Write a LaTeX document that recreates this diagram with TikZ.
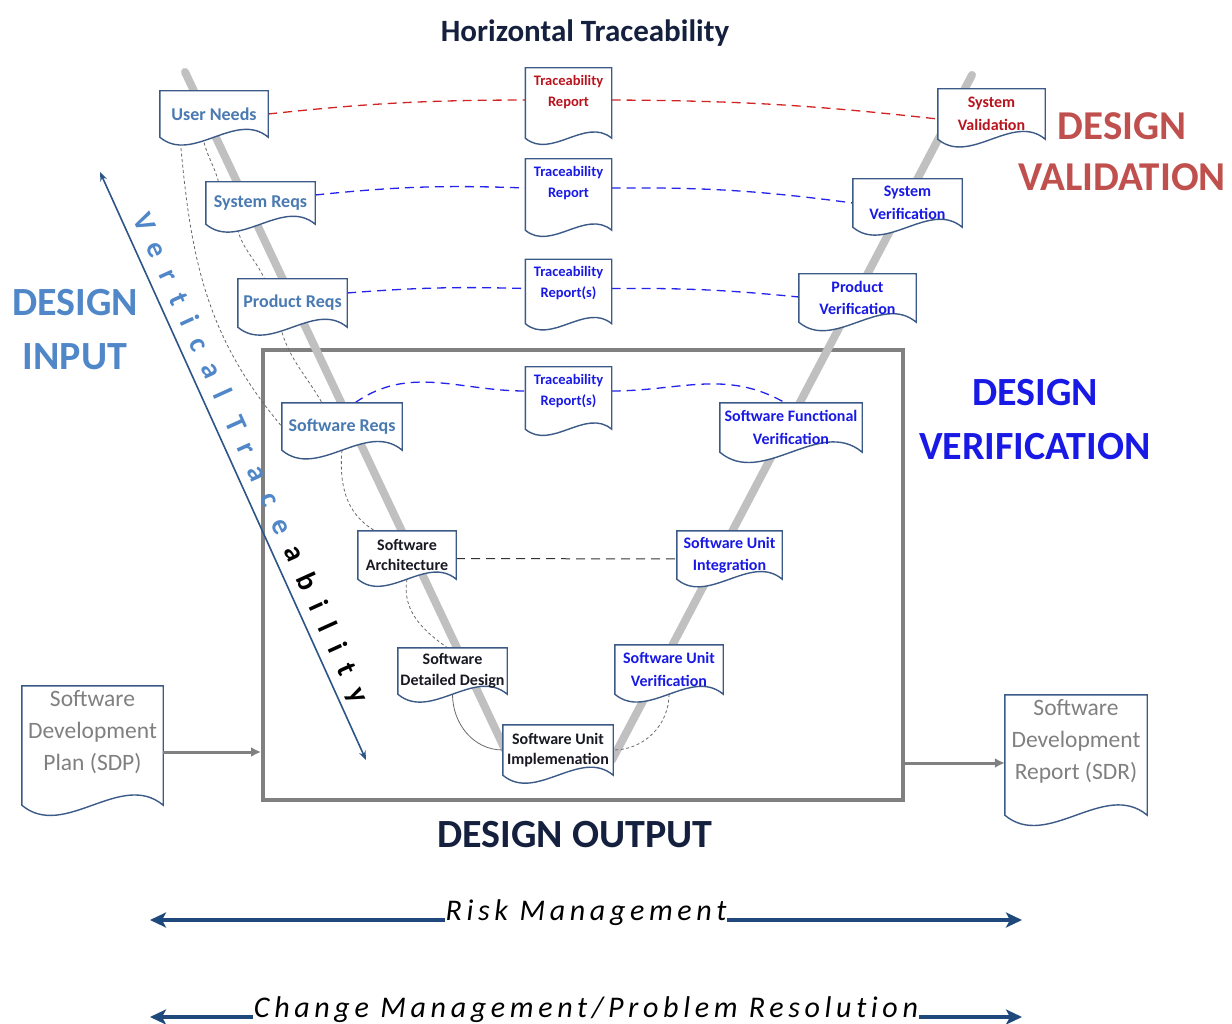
\documentclass[tikz,border=0pt]{standalone}
\usepackage{fontspec}
\setmainfont{Carlito}
\newfontfamily\spacedfont[LetterSpace=54, Ligatures={NoCommon,NoContextual}]{Carlito Bold}
\newfontfamily\mgmtfont[LetterSpace=15.5, Ligatures={NoCommon,NoContextual}]{Carlito}
\usetikzlibrary{arrows.meta}
\pgfdeclarelayer{back}
\pgfdeclarelayer{mid}
\pgfsetlayers{back,mid,main}

\definecolor{docborder}{RGB}{60,90,135}
\definecolor{inblue}{RGB}{74,122,178}
\definecolor{verblue}{RGB}{25,25,230}
\definecolor{valred}{RGB}{185,20,30}
\definecolor{darktext}{RGB}{25,25,35}
\definecolor{navy}{RGB}{20,32,62}
\definecolor{titleblue}{RGB}{80,135,200}
\definecolor{titlered}{RGB}{192,80,77}
\definecolor{vgray}{RGB}{192,192,192}
\definecolor{boxgray}{RGB}{128,128,128}
\definecolor{arrownavy}{RGB}{31,73,125}
\definecolor{linkgray}{RGB}{105,105,105}
\definecolor{redlink}{RGB}{210,35,35}
\definecolor{bluelink}{RGB}{35,35,235}
\definecolor{vtnavy}{RGB}{45,85,135}

\newcommand{\fs}[2]{\fontsize{#1}{#2}\selectfont}

% document outline: flat top, wavy bottom, drawn under the text
\newcommand{\docoutline}[2][0]{%
  \begin{pgfonlayer}{mid}
    \filldraw[fill=white, draw=docborder, line width=1.4pt]
      ([yshift=-#1pt]#2.south west) -- (#2.north west) -- (#2.north east)
      -- ([yshift=-#1pt]#2.south east) to[out=140, in=-40]
         ([yshift=-#1pt]#2.south west) -- cycle;
  \end{pgfonlayer}}

\begin{document}
\begin{tikzpicture}[
        x=1pt, y=1pt,
        sz/.style 2 args={minimum width=#1pt, minimum height=#2pt},
        doc/.style={inner sep=1pt, align=center},
        indoc/.style={doc, text=inblue, font=\bfseries\fs{18}{21}},
        swdoc/.style={doc, text=darktext, font=\bfseries\fs{16}{20.5}},
        verdoc/.style={doc, text=verblue, font=\bfseries\fs{16}{22.5}},
        trdoc/.style={doc, font=\bfseries\fs{14.5}{21}, sz={86}{48}},
        plandoc/.style={doc, text=boxgray, font=\fs{23.5}{32}, sz={141}{92}},
        heading/.style={font=\bfseries\fs{40}{54}, align=center},
        reqlink/.style={line width=1.3pt, dash pattern=on 9pt off 6pt},
        tracelink/.style={linkgray, line width=0.8pt, dash pattern=on 3pt off 2.5pt},
        flow/.style={boxgray, line width=3pt, -{Latex[length=10pt,width=10pt]}},
        mgmt/.style={arrownavy, line width=4.5pt,
            arrows={Stealth[length=16pt,width=15pt,inset=4pt]-Stealth[length=16pt,width=15pt,inset=4pt]}},
        mgmttext/.style={anchor=base, fill=white, inner xsep=1pt, inner ysep=3pt,
            text=black, font=\mgmtfont\itshape\fs{30}{30}},
        vtarrow/.style={vtnavy, line width=1.6pt,
            arrows={Stealth[length=9pt,width=7pt]-Stealth[length=9pt,width=7pt]}}
    ]
    \useasboundingbox (0,0) rectangle (1232,-1024);

    % headings
    \node[font=\bfseries\fs{31}{36}, text=navy] (htitle) at (585,-33) {Horizontal Traceability};
    \node[heading, text=titleblue] (din) at (75,-330) {DESIGN\\INPUT};
    \node[heading, text=titlered, font=\bfseries\fs{41}{51}] (dval) at (1122,-152) {DESIGN\\VALIDATION};
    \node[heading, text=verblue] (dver) at (1035,-420) {DESIGN\\VERIFICATION};
    \node[heading, text=navy] (dout) at (575,-835) {DESIGN OUTPUT};

    % left side of the V
    \node[indoc, sz={108}{46}] (un) at (214,-114) {User Needs};
    \node[indoc, sz={109}{42}] (sr) at (260.5,-203) {System Reqs};
    \node[indoc, sz={109}{48}] (pr) at (292.5,-303) {Product Reqs};
    \node[indoc, sz={120}{47}] (swr) at (342,-426.5) {Software Reqs};
    \node[swdoc, sz={98}{48}] (sa) at (407,-555) {Software\\Architecture};
    \node[swdoc, sz={109}{46}] (sdd) at (452.5,-671) {Software\\Detailed Design};
    \node[swdoc, sz={110}{50}] (sui) at (558,-750) {Software Unit\\Implemenation};

    % right side of the V
    \node[verdoc, sz={108}{49}] (suv) at (669,-669.5) {Software Unit\\Verification};
    \node[verdoc, sz={105}{48}] (sut) at (729.5,-555) {Software Unit\\Integration};
    \node[verdoc, sz={142}{49}] (sfv) at (791,-427.5) {Software Functional\\Verification};
    \node[verdoc, sz={117}{48}] (pv) at (857.5,-298) {Product\\Verification};
    \node[verdoc, sz={109}{48}] (syv) at (907.5,-203) {System\\Verification};
    \node[verdoc, text=valred, sz={107}{50}] (sval) at (991.5,-114) {System\\Validation};

    \foreach \n in {un,sr,pr,swr,sa,sdd,sui,suv,sut,sfv,pv,syv,sval}
        \docoutline{\n};

    % traceability reports in the middle
    \foreach \n/\y/\c/\t/\d in {1/92/valred/Report/22, 2/183/verblue/Report/23,
                                3/283.5/verblue/Report(s)/16, 4/391/verblue/Report(s)/14} {
        \node[trdoc, text=\c] (tr\n) at (568.5,-\y) {Traceability\\\t};
        \docoutline[\d]{tr\n}
    }

    % plan and report
    \node[plandoc] (sdp) at (92.5,-732) {Software\\Development\\Plan (SDP)};
    \node[plandoc, sz={142}{92}] (sdr) at (1076,-741) {Software\\Development\\Report (SDR)};
    \docoutline[27]{sdp}
    \docoutline[28]{sdr}

    \begin{pgfonlayer}{back}
        \node[draw=boxgray, line width=4pt, sz={640}{450}] (outbox) at (583,-575) {};

        % the V
        \coordinate (vl) at (185,-72);
        \coordinate (vb1) at (510,-760);
        \coordinate (vb2) at (612,-760);
        \coordinate (vr) at (972,-75);
        \draw[vgray, line width=8pt, line cap=round, line join=round] (vl) -- (vb1) -- (vb2) -- (vr);

        % horizontal traceability
        \draw[reqlink, redlink] (un.east) to[bend left=3] ([yshift=-8pt]tr1.west);
        \draw[reqlink, redlink] ([yshift=-8pt]tr1.east) to[bend left=3] ([yshift=-5pt]sval.west);
        \draw[reqlink, bluelink] ([yshift=8pt]sr.east) to[bend left=4] ([yshift=-5pt]tr2.west);
        \draw[reqlink, bluelink] ([yshift=-5pt]tr2.east) to[bend left=4] (syv.west);
        \draw[reqlink, bluelink] ([yshift=10pt]pr.east) to[bend left=3] ([yshift=-5pt]tr3.west);
        \draw[reqlink, bluelink] ([yshift=-5pt]tr3.east) to[bend left=3] ([yshift=1pt]pv.west);
        \draw[reqlink, bluelink] ([xshift=13pt]swr.north) to[out=35, in=180] (tr4.west);
        \draw[reqlink, bluelink] (tr4.east) to[out=0, in=150] ([xshift=-6pt]sfv.north);
        \draw[reqlink, black!80, line width=1pt] ([yshift=-3.5pt]sa.east) -- ([yshift=-4pt]sut.west);

        % vertical traceability
        \draw[tracelink] ([xshift=-34pt]un.south) to[out=-85, in=130] (swr.west);
        \draw[tracelink] ([xshift=-11pt]un.south) to[out=-80, in=105] ([xshift=-42pt]sr.north);
        \draw[tracelink] ([xshift=-24pt]sr.south) to[out=-80, in=115] ([xshift=-28pt]pr.north);
        \draw[tracelink] ([xshift=-12pt]pr.south) to[out=-75, in=120] ([xshift=-20pt]swr.north);
        \draw[tracelink] (swr.south) to[out=-95, in=150] ([xshift=-32pt]sa.north);
        \draw[tracelink] (sa.south) to[out=-100, in=145] ([xshift=-5pt]sdd.north);
        \draw[tracelink, solid] (sdd.south) to[out=-90, in=180] (sui.west);
        \draw[tracelink] (suv.south) to[out=-90, in=0] (sui.east);
    \end{pgfonlayer}

    % input and output documents
    \draw[flow] ([yshift=-20pt]sdp.east) -- ([yshift=-20pt]sdp.east -| outbox.west);
    \draw[flow] ([yshift=-22pt]sdr.west -| outbox.east) -- ([yshift=-22pt]sdr.west);

    % vertical traceability arrow
    \coordinate (vttop) at (100,-172);
    \coordinate (vtbot) at (366,-760);
    \draw[vtarrow] (vttop) -- node[sloped, above=2pt, pos=0.5, text=black,
        font=\spacedfont\fs{29}{29}] {{\color{titleblue}Vertical Trace}\kern15.5pt ability} (vtbot);

    % management bars
    \coordinate (rml) at (150,-920);
    \coordinate (rmr) at (1022,-920);
    \draw[mgmt] (rml) -- node[mgmttext] {Risk Management} (rmr);
    \coordinate (cml) at (150,-1017);
    \coordinate (cmr) at (1022,-1017);
    \draw[mgmt] (cml) -- node[mgmttext] {Change Management/Problem Resolution} (cmr);
\end{tikzpicture}
\end{document}
